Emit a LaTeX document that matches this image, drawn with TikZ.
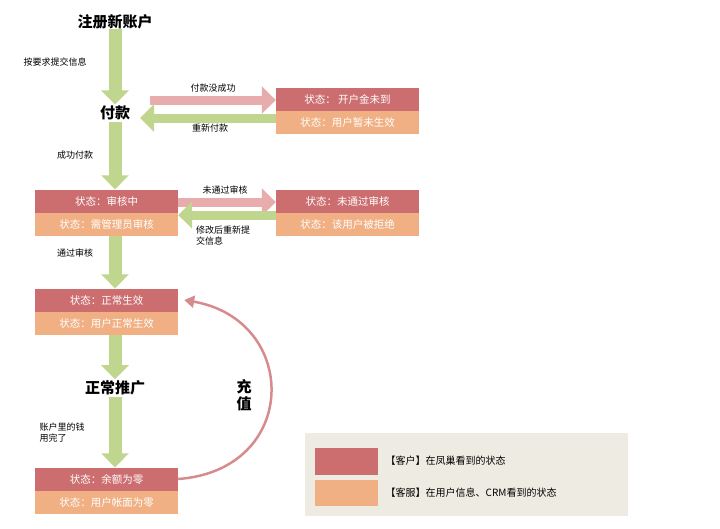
\documentclass[tikz,border=0pt]{standalone}
\usepackage{fontspec}
\setmainfont{Noto Sans CJK SC}
\usetikzlibrary{arrows.meta,positioning}
\definecolor{stred}{RGB}{204,110,112}
\definecolor{storange}{RGB}{240,176,132}
\definecolor{flowgreen}{RGB}{192,214,142}
\definecolor{failpink}{RGB}{232,172,172}
\definecolor{legendbg}{RGB}{238,236,226}
\tikzset{
  redbox/.style={fill=stred,text=white,minimum width=143pt,minimum height=23pt,inner sep=0pt,font=\fontsize{10.5}{12}\selectfont},
  orangebox/.style={fill=storange,text=white,minimum width=143pt,minimum height=23pt,inner sep=0pt,font=\fontsize{10.5}{12}\selectfont},
  stage/.style={font=\fontsize{15}{17}\selectfont\bfseries},
  lbl/.style={font=\fontsize{9}{11}\selectfont,align=left},
  bigarrow/.style={draw=#1,line width=13pt,-{Triangle[length=14pt,width=27pt]}},
}
\begin{document}
\begin{tikzpicture}[x=1pt,y=-1pt]
\useasboundingbox (0,0) rectangle (720,528);

    \node[stage] (reg) at (115,22) {注册新账户};
    \node[stage] (pay) at (115,113) {付款};
    \node[stage] (promo) at (115,388) {正常推广};
    \coordinate (axis) at (115,0);

    \node[redbox] (unpaid) at (347.5,99) {状态： 开户金未到};
    \node[orangebox,below=0pt of unpaid] (unpaidb) {状态：用户暂未生效};
    \node[redbox] (review) at (106.5,201) {状态：审核中};
    \node[orangebox,below=0pt of review] (reviewb) {状态：需管理员审核};
    \node[redbox] (reject) at (347.5,201) {状态：未通过审核};
    \node[orangebox,below=0pt of reject] (rejectb) {状态：该用户被拒绝};
    \node[redbox] (active) at (106.5,300) {状态：正常生效};
    \node[orangebox,below=0pt of active] (activeb) {状态：用户正常生效};
    \node[redbox] (empty) at (106.5,479) {状态：余额为零};
    \node[orangebox,below=0pt of empty] (emptyb) {状态：用户帐面为零};

    % main flow
    \draw[bigarrow=flowgreen] ([yshift=4]reg.south) -- ([yshift=-2]pay.north);
    \draw[bigarrow=flowgreen] ([yshift=2]pay.south) -- (review.north -| axis);
    \draw[bigarrow=flowgreen] (reviewb.south -| axis) -- (active.north -| axis);
    \draw[bigarrow=flowgreen] (activeb.south -| axis) -- ([yshift=-2]promo.north);
    \draw[bigarrow=flowgreen] ([yshift=2]promo.south) -- (empty.north -| axis);

    % side loops
    \draw[bigarrow=failpink,line width=9pt] (150,100) -- (unpaid.west |- 0,100);
    \draw[bigarrow=flowgreen,line width=9pt] (unpaidb.west |- 0,118) -- (140,118);
    \draw[bigarrow=failpink,line width=9pt] (review.east |- 0,202) -- (reject.west |- 0,202);
    \draw[bigarrow=flowgreen,line width=9pt] (reject.west |- 0,215) -- (review.east |- 0,215);

    \node[lbl] at (213,88) {付款没成功};
    \node[lbl] at (210,128) {重新付款};
    \node[lbl] at (225,190) {未通过审核};
    \node[lbl] at (223,236) {修改后重新提\\交信息};
    \node[lbl] at (55,62) {按要求提交信息};
    \node[lbl] at (75,155) {成功付款};
    \node[lbl] at (75,253) {通过审核};
    \node[lbl] at (62,433) {账户里的钱\\用完了};

    % recharge
    \draw[draw=stred!80,line width=2.5pt,-{Triangle[length=10pt,width=12pt]}]
      (empty.east) .. controls (300,470) and (300,320) .. ([xshift=6]active.east);
    \node[stage,align=center] at (244,395) {充\\值};

    % legend
    \fill[legendbg] (305,433) rectangle (628,516);
    \node[redbox,minimum width=63pt,minimum height=27pt] (legred) at (346.5,461) {};
    \node[orangebox,minimum width=63pt,minimum height=26pt] (legorange) at (346.5,493) {};
    \node[lbl,font=\fontsize{10}{12}\selectfont,right=4pt of legred] {【客户】在凤巢看到的状态};
    \node[lbl,font=\fontsize{10}{12}\selectfont,right=4pt of legorange] {【客服】在用户信息、CRM看到的状态};

\end{tikzpicture}
\end{document}
